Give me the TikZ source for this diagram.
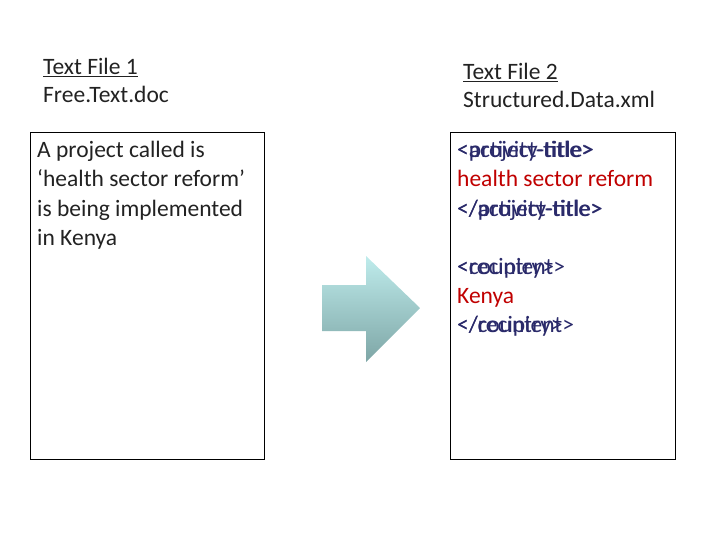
\documentclass[tikz,border=0pt]{standalone}
\usepackage{fontspec}
\setmainfont{Carlito}
\usetikzlibrary{shadings}
\definecolor{tagc}{HTML}{2A2A6A}
\definecolor{redc}{HTML}{C00000}
\definecolor{txt}{HTML}{222222}
\begin{document}
\begin{tikzpicture}[x=1pt,y=-1pt,
  t/.style={anchor=base west,inner sep=0,font=\fontsize{23.5}{29}\selectfont,text=txt},
  tag/.style={t,text=tagc},
  rd/.style={t,text=redc},
  box/.style={draw=black,line width=1.2pt}]
\useasboundingbox (0,0) rectangle (720,540);
\node[box,minimum width=234,minimum height=327,anchor=north west,inner sep=0] (b1) at (30,132) {};
\node[box,minimum width=225,minimum height=327,anchor=north west,inner sep=0] (b2) at (450,132) {};
\node[t] (h1) at (43,75) {\underline{Text File 1}};
\node[t] (h1b) at (43,103) {Free.Text.doc};
\node[t] (h2) at (463,80) {\underline{Text File 2}};
\node[t] (h2b) at (463,108) {Structured.Data.xml};
\node[t] (l1) at (37,158) {A project called is};
\node[t] (l2) at (37,187) {‘health sector reform’};
\node[t] (l3) at (37,216) {is being implemented};
\node[t] (l4) at (37,245) {in Kenya};
\node[tag] (p1) at (457,158) {<project-title>};
\node[tag] (a1) at (457,158) {<activity-title>};
\node[rd] (r1) at (457,187) {health sector reform};
\node[tag] (p2) at (457,216) {</project-title>};
\node[tag] (a2) at (457,216) {</activity-title>};
\node[tag] (c1) at (457,274) {<country>};
\node[tag] (c2) at (457,274) {<recipient>};
\node[rd] (r2) at (457,303) {Kenya};
\node[tag] (c3) at (457,332) {</country>};
\node[tag] (c4) at (457,332) {</recipient>};
\shade[top color=cyan!12!white!85!teal, bottom color=teal!45!gray!70]
  (322,285) -- (366,285) -- (366,256) -- (420,308) -- (366,362) -- (366,331) -- (322,331) -- cycle;
\end{tikzpicture}
\end{document}
